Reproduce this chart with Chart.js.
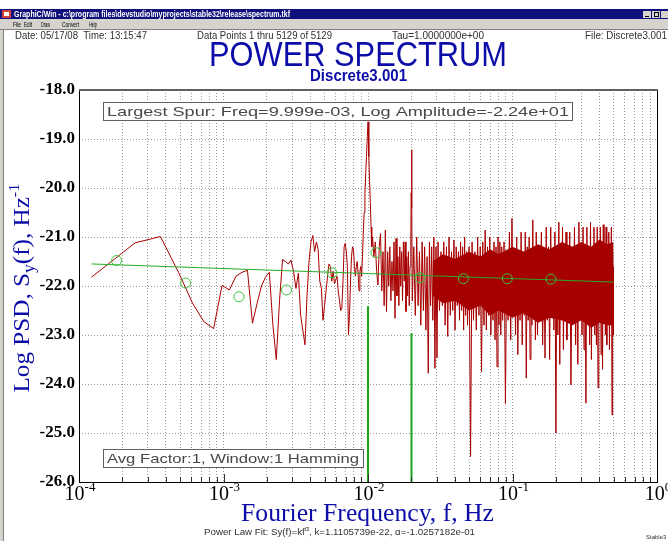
<!DOCTYPE html>
<html>
<head>
<meta charset="utf-8">
<title>Power Spectrum</title>
<script src="https://cdn.jsdelivr.net/npm/chart.js@4.4.1/dist/chart.umd.min.js"></script>
<style>
  html, body { margin: 0; padding: 0; background: #ffffff; }
  #wrap { position: relative; width: 668px; height: 541px; overflow: hidden; }
</style>
</head>
<body>
<div id="wrap"><canvas id="spectrumChart" width="668" height="541"></canvas></div>
<script>
// spectrum bin width, Hz (tau = 1 s)
const BIN_WIDTH = 1 / 8192;

// bins 1..82, one value per bin (index 0 = bin 1)
const lowPsd = [
  -21.82, -21.12, -20.99, -21.72, -22.35, -22.73, -22.87, -21.99, -22.08, -21.80,
  -21.72, -21.68, -22.76, -22.35, -22.00, -21.82, -21.72, -22.80, -23.50, -22.30,
  -21.46, -21.50, -21.55, -21.47, -21.70, -22.05, -21.74, -22.60, -22.90, -23.20,
  -22.20, -21.50, -21.10, -20.97, -21.30, -21.10, -21.25, -21.90, -22.05, -22.70,
  -22.40, -22.10, -21.80, -21.55, -21.60, -21.90, -21.70, -21.95, -21.88, -21.80,
  -22.10, -22.30, -22.50, -22.45, -21.90, -21.20, -21.13, -21.30, -21.60, -23.00,
  -22.60, -21.90, -21.40, -21.20, -21.25, -21.60, -21.80, -21.60, -21.50, -21.75,
  -22.10, -21.70, -21.60, -21.80, -21.40, -20.90, -20.50, -20.10, -19.70, -19.35,
  -18.95, -18.65
];

// between the two spurs
const midBins = [
  83, 84, 85, 86, 87, 88, 90, 92, 94, 96, 98, 100, 102, 104, 106, 108, 110, 112,
  114, 116, 118, 120, 122, 124, 126, 128, 130, 132, 134, 136, 138, 140, 142, 144,
  146, 148, 150, 152, 154, 156, 158, 160, 162, 163, 164, 165
];
const midPsd = [
  -19.36, -19.85, -20.30, -20.80, -21.20, -21.00, -21.40, -21.10, -21.70, -21.98,
  -21.20, -20.93, -22.10, -21.30, -22.40, -20.86, -22.52, -21.30, -22.00, -21.20,
  -22.30, -21.50, -22.10, -21.10, -22.66, -21.03, -22.20, -21.40, -22.40, -21.20,
  -22.00, -21.30, -22.30, -21.10, -21.90, -21.10, -22.52, -21.40, -22.20, -21.30,
  -22.40, -21.60, -21.20, -20.10, -19.22, -20.40
];

// dense upper part of the spectrum
const highBins = [
  166, 170, 174, 178, 182, 186, 190, 194, 198, 202, 206, 210, 214, 218, 222, 226, 230, 234, 238, 242, 246, 250,
  256, 262, 268, 274, 280, 286, 292, 298, 304, 310, 316, 322, 328, 334, 340, 346, 352, 358, 364, 370, 376, 382, 388, 394, 400,
  410, 420, 430, 440, 450, 460, 470, 480, 490, 500, 510, 520, 530, 540, 550, 560, 570, 580, 590, 600, 610, 620, 630, 640, 650, 660, 670, 680, 690, 700,
  716, 732, 748, 764, 780, 796, 812, 828, 844, 860, 876, 892, 908, 924, 940, 956, 972, 988, 1004, 1020, 1036, 1052, 1068, 1084, 1100, 1116, 1132, 1148, 1164, 1180, 1196,
  1220, 1246, 1272, 1298, 1324, 1350, 1376, 1402, 1428, 1454, 1480, 1506, 1532, 1558, 1584, 1610, 1636, 1662, 1688, 1714, 1740, 1766, 1792, 1818, 1844, 1870, 1896, 1922, 1948, 1974, 2000,
  2040, 2080, 2120, 2160, 2200, 2240, 2280, 2320, 2360, 2400, 2440, 2480, 2520, 2560, 2600, 2640, 2680, 2720, 2760, 2800, 2840, 2880, 2920, 2960, 3000, 3040,
  3080, 3120, 3160, 3200, 3240, 3280, 3320, 3360, 3400, 3440, 3480, 3520, 3560, 3600, 3640, 3680, 3720, 3760, 3800, 3840, 3880, 3920, 3960, 4000, 4040, 4080, 4096
];
const highPsd = [
  -22.3, -21.2, -22.6, -21.0, -22.4, -21.3, -22.8, -21.1, -22.5, -21.2, -22.9, -21.4, -23.78, -21.1, -22.4, -21.2, -22.7, -21.0, -23.68, -21.2, -23.47, -21.1,
  -22.5, -21.3, -22.4, -21.1, -22.8, -21.2, -23.03, -21.0, -22.6, -21.3, -22.5, -21.06, -22.9, -21.2, -22.4, -21.3, -22.7, -21.1, -22.5, -21.2, -22.9, -21.0, -22.6, -21.3, -22.8,
  -21.2, -25.48, -21.1, -22.7, -21.3, -22.9, -21.0, -22.6, -21.2, -23.75, -21.1, -22.8, -20.86, -22.9, -21.2, -22.6, -21.0, -23.0, -21.3, -22.7, -21.1, -23.1, -21.2, -23.65, -21.0, -22.8, -21.1, -23.0, -21.2, -22.7,
  -21.1, -24.4, -21.3, -22.7, -20.9, -23.1, -20.62, -22.6, -21.3, -23.0, -21.0, -23.4, -21.4, -22.7, -20.9, -23.2, -21.3, -22.6, -20.9, -23.88, -21.2, -22.7, -21.0, -23.5, -21.4, -22.8, -20.65, -22.6, -21.2, -23.1, -20.9,
  -23.0, -21.3, -22.6, -20.9, -23.2, -21.4, -23.47, -20.8, -22.7, -21.2, -23.5, -20.8, -22.6, -21.3, -22.9, -20.9, -25.0, -21.2, -23.0, -20.7, -23.6, -21.3, -22.7, -20.8, -23.3, -21.4, -22.6, -20.9, -23.1, -21.2, -22.7,
  -20.9, -24.02, -21.3, -22.7, -20.8, -23.2, -21.4, -23.6, -20.7, -22.6, -21.2, -23.0, -20.8, -23.3, -21.4, -24.39, -20.8, -22.7, -21.2, -23.2, -20.7, -23.5, -21.3, -22.6, -20.8, -23.0,
  -21.4, -23.2, -20.8, -24.08, -21.2, -22.7, -20.8, -23.4, -21.3, -23.7, -20.75, -22.6, -21.2, -23.0, -20.8, -23.2, -21.4, -22.7, -20.9, -23.3, -21.2, -22.6, -20.8, -24.63, -21.3, -23.0, -21.6
];

// solid core of the dense band (upper and lower edge)
const bandFreq = [0.028, 0.033, 0.04, 0.05, 0.06, 0.07, 0.08, 0.1, 0.12, 0.15, 0.18, 0.22, 0.26, 0.3, 0.35, 0.4, 0.45, 0.5];
const bandTop = [-21.5, -21.35, -21.45, -21.3, -21.4, -21.25, -21.35, -21.2, -21.3, -21.15, -21.25, -21.1, -21.2, -21.1, -21.2, -21.05, -21.15, -21.1];
const bandBottom = [-22.2, -22.35, -22.3, -22.5, -22.4, -22.6, -22.5, -22.65, -22.55, -22.75, -22.65, -22.7, -22.8, -22.7, -22.85, -22.75, -22.8, -22.8];

// power law fit line
const fitFreq = [1.2207e-4, 0.5];
const fitPsd = [-21.55, -21.92];

// octave averaged points (green circles)
const avgFreq = [1.82e-4, 5.47e-4, 1.28e-3, 2.73e-3, 5.64e-3, 1.135e-2, 2.29e-2, 4.57e-2, 9.2e-2, 1.845e-1];
const avgPsd = [-21.48, -21.94, -22.22, -22.08, -21.73, -21.32, -21.83, -21.85, -21.85, -21.86];

// detected spurs
const spurFreq = [9.999e-3, 2.0e-2];
const spurPsd = [-22.41, -22.96];
const PSD_FLOOR = -26;

// axis ticks
const decadeTicks = [1e-4, 1e-3, 1e-2, 1e-1, 1];
const decadeExponents = ["-4", "-3", "-2", "-1", "0"];
const minorSteps = [2, 3, 4, 5, 6, 7, 8, 9];
const psdTicks = [-18, -19, -20, -21, -22, -23, -24, -25, -26];

const COLORS = {
  RED: "#a80000",
  BAND: "#a40000",
  FIT: "rgb(40, 170, 40)",
  CIRCLE: "#3cc43c",
  SPUR: "#1aa61a",
  GRID: "#9a9a9a",
  BLUE: "#0c0ca8",
  TEXT: "#303030",
  BOX_TEXT: "#484848",
  NAVY: "#10107c",
  FACE: "#d6d3ce"
};
const SERIF = '"Liberation Serif", "DejaVu Serif", serif';
const SANS = '"Liberation Sans", Arial, sans-serif';

const xGridValues = [];
decadeTicks.forEach((d, i) => {
  xGridValues.push(d);
  if (i < decadeTicks.length - 1) {
    minorSteps.forEach((m) => xGridValues.push(d * m));
  }
});

const redPoints = [];
lowPsd.forEach((v, i) => redPoints.push({ x: (i + 1) * BIN_WIDTH, y: v }));
midBins.forEach((b, i) => redPoints.push({ x: b * BIN_WIDTH, y: midPsd[i] }));
highBins.forEach((b, i) => redPoints.push({ x: b * BIN_WIDTH, y: highPsd[i] }));

function fitText(ctx, text, x, y, width, font, color) {
  ctx.save();
  ctx.font = font;
  ctx.fillStyle = color;
  ctx.textAlign = "left";
  ctx.textBaseline = "alphabetic";
  const w = ctx.measureText(text).width;
  ctx.translate(x, y);
  ctx.scale(width / w, 1);
  ctx.fillText(text, 0, 0);
  ctx.restore();
}

// parts: {text, font, dy}; draws from x, or squeezed to width if given
function drawRich(ctx, parts, x, y, width, color) {
  ctx.save();
  ctx.fillStyle = color;
  ctx.textAlign = "left";
  ctx.textBaseline = "alphabetic";
  let total = 0;
  const widths = parts.map((p) => {
    ctx.font = p.font;
    const w = ctx.measureText(p.text).width;
    total += w;
    return w;
  });
  ctx.translate(x, y);
  if (width) {
    ctx.scale(width / total, 1);
  }
  let cx = 0;
  parts.forEach((p, i) => {
    ctx.font = p.font;
    ctx.fillText(p.text, cx, p.dy || 0);
    cx += widths[i];
  });
  ctx.restore();
  return total;
}

function measureRich(ctx, parts) {
  let total = 0;
  ctx.save();
  parts.forEach((p) => {
    ctx.font = p.font;
    total += ctx.measureText(p.text).width;
  });
  ctx.restore();
  return total;
}

const spectrumDecor = {
  id: "spectrumDecor",

  beforeDraw(chart) {
    const ctx = chart.ctx;
    ctx.save();
    ctx.fillStyle = "#ffffff";
    ctx.fillRect(0, 0, chart.width, chart.height);

    // window title bar
    ctx.fillStyle = COLORS.NAVY;
    ctx.fillRect(0, 9, chart.width, 10);
    ctx.fillStyle = "#d04040";
    ctx.fillRect(2, 10, 9, 8);
    ctx.fillStyle = "#ffffff";
    ctx.fillRect(4, 12, 5, 4);
    fitText(ctx, "GraphiC/Win - c:\\program files\\devstudio\\myprojects\\stable32\\release\\spectrum.tkf",
      14, 17, 276, "bold 9px " + SANS, "#ffffff");
    [643, 652, 661].forEach((bx) => {
      ctx.fillStyle = COLORS.FACE;
      ctx.fillRect(bx, 11, 8, 7);
    });
    ctx.fillStyle = "#000000";
    ctx.fillRect(645, 16, 4, 1);
    ctx.strokeStyle = "#000000";
    ctx.lineWidth = 1;
    ctx.strokeRect(654.5, 12.5, 4, 4);

    // menu bar
    ctx.fillStyle = COLORS.FACE;
    ctx.fillRect(0, 19, chart.width, 10);
    const menu = [["File", 13, 8], ["Edit", 24, 8], ["Draw", 41, 9], ["Convert", 62, 17], ["Help", 89, 8]];
    menu.forEach(([t, mx, mw]) => fitText(ctx, t, mx, 27, mw, "8px " + SANS, "#000000"));

    // client area edges
    ctx.fillStyle = COLORS.FACE;
    ctx.fillRect(0, 29, 3, chart.height - 29);
    ctx.fillStyle = "#808080";
    ctx.fillRect(0, 29, chart.width, 1);
    ctx.fillRect(3, 29, 1, chart.height - 29);
    ctx.restore();
  },

  afterDatasetsDraw(chart) {
    const ctx = chart.ctx;
    const area = chart.chartArea;
    const xScale = chart.scales.x;
    ctx.save();

    // inner tick marks along the bottom axis
    ctx.strokeStyle = "#333333";
    ctx.lineWidth = 1;
    xGridValues.forEach((v) => {
      const px = Math.round(xScale.getPixelForValue(v)) + 0.5;
      const len = decadeTicks.includes(v) ? 8 : 5;
      ctx.beginPath();
      ctx.moveTo(px, area.bottom);
      ctx.lineTo(px, area.bottom - len);
      ctx.stroke();
    });

    // plot frame
    ctx.strokeStyle = "#000000";
    ctx.strokeRect(Math.round(area.left) + 0.5, Math.round(area.top) + 0.5,
      Math.round(area.right - area.left), Math.round(area.bottom - area.top));
    ctx.fillStyle = "#606060";
    ctx.fillRect(area.left, area.top - 1, area.right - area.left + 1, 2);

    // annotation boxes
    const boxes = [
      ["Largest Spur: Freq=9.999e-03, Log Amplitude=-2.24e+01", 103, 102, 469, 462],
      ["Avg Factor:1, Window:1 Hamming", 103, 449, 260, 252]
    ];
    boxes.forEach(([text, bx, by, bw, tw]) => {
      ctx.fillStyle = "#ffffff";
      ctx.fillRect(bx, by, bw, 18);
      ctx.strokeStyle = "#606060";
      ctx.strokeRect(bx + 0.5, by + 0.5, bw, 18);
      fitText(ctx, text, bx + 4, by + 14, tw, "13px " + SANS, COLORS.BOX_TEXT);
    });
    ctx.restore();
  },

  afterDraw(chart) {
    const ctx = chart.ctx;
    const xScale = chart.scales.x;
    ctx.save();

    // header line
    const smallFont = "10px " + SANS;
    fitText(ctx, "Date: 05/17/08  Time: 13:15:47", 15, 39, 132, smallFont, COLORS.TEXT);
    fitText(ctx, "Data Points 1 thru 5129 of 5129", 197, 39, 135, smallFont, COLORS.TEXT);
    fitText(ctx, "Tau=1.0000000e+00", 392, 39, 92, smallFont, COLORS.TEXT);
    fitText(ctx, "File: Discrete3.001", 585, 39, 82, smallFont, COLORS.TEXT);

    // titles
    fitText(ctx, "POWER SPECTRUM", 209, 66, 298, "35px " + SANS, COLORS.BLUE);
    fitText(ctx, "Discrete3.001", 310, 81, 97, "bold 17px " + SANS, COLORS.BLUE);

    // x tick labels 10^n
    decadeTicks.forEach((v, i) => {
      const parts = [
        { text: "10", font: "20px " + SERIF },
        { text: decadeExponents[i], font: "13px " + SERIF, dy: -9 }
      ];
      const w = measureRich(ctx, parts);
      const px = xScale.getPixelForValue(v);
      drawRich(ctx, parts, px + 1 - w / 2, 500, null, "#000000");
    });

    // x axis title
    fitText(ctx, "Fourier Frequency, f, Hz", 241, 521, 253, "25px " + SERIF, COLORS.BLUE);

    // y axis title, rotated
    ctx.save();
    ctx.translate(29, 288);
    ctx.rotate(-Math.PI / 2);
    const yParts = [
      { text: "Log PSD, S", font: "23px " + SERIF },
      { text: "y", font: "16px " + SERIF, dy: 5 },
      { text: "(f), Hz", font: "23px " + SERIF },
      { text: "-1", font: "15px " + SERIF, dy: -10 }
    ];
    drawRich(ctx, yParts, -104.5, 0, 209, COLORS.BLUE);
    ctx.restore();

    // footer
    drawRich(ctx, [
      { text: "Power Law Fit: Sy(f)=kf", font: "9px " + SANS },
      { text: "\u03b1", font: "7px " + SANS, dy: -4 },
      { text: ", k=1.1105739e-22, \u03b1=-1.0257182e-01", font: "9px " + SANS }
    ], 204, 535, 271, COLORS.TEXT);
    ctx.font = "6px " + SANS;
    ctx.fillStyle = COLORS.TEXT;
    ctx.fillText("Stable3", 646, 539);
    ctx.restore();
  }
};

const ctx = document.getElementById("spectrumChart").getContext("2d");

new Chart(ctx, {
  type: "line",
  data: {
    datasets: [
      {
        label: "Averages",
        data: avgFreq.map((f, i) => ({ x: f, y: avgPsd[i] })),
        showLine: false,
        pointRadius: 5,
        pointStyle: "circle",
        pointBorderColor: COLORS.CIRCLE,
        pointBackgroundColor: "rgba(0, 0, 0, 0)",
        pointBorderWidth: 1,
        order: 0
      },
      {
        label: "Power Law Fit",
        data: fitFreq.map((f, i) => ({ x: f, y: fitPsd[i] })),
        borderColor: COLORS.FIT,
        borderWidth: 1,
        pointRadius: 0,
        order: 1
      },
      {
        label: "Spur 1",
        data: [{ x: spurFreq[0], y: PSD_FLOOR }, { x: spurFreq[0], y: spurPsd[0] }],
        borderColor: COLORS.SPUR,
        borderWidth: 2,
        pointRadius: 0,
        order: 2
      },
      {
        label: "Spur 2",
        data: [{ x: spurFreq[1], y: PSD_FLOOR }, { x: spurFreq[1], y: spurPsd[1] }],
        borderColor: COLORS.SPUR,
        borderWidth: 2,
        pointRadius: 0,
        order: 2
      },
      {
        label: "PSD",
        data: redPoints,
        borderColor: COLORS.RED,
        borderWidth: 1,
        pointRadius: 0,
        tension: 0,
        order: 3
      },
      {
        label: "Band top",
        data: bandFreq.map((f, i) => ({ x: f, y: bandTop[i] })),
        borderWidth: 0,
        borderColor: "rgba(0, 0, 0, 0)",
        backgroundColor: COLORS.BAND,
        pointRadius: 0,
        fill: "+1",
        order: 4
      },
      {
        label: "Band bottom",
        data: bandFreq.map((f, i) => ({ x: f, y: bandBottom[i] })),
        borderWidth: 0,
        borderColor: "rgba(0, 0, 0, 0)",
        pointRadius: 0,
        fill: false,
        order: 5
      }
    ]
  },
  options: {
    responsive: false,
    animation: false,
    events: [],
    layout: {
      padding: { top: 90, right: 11, bottom: 0, left: 0 }
    },
    plugins: {
      legend: { display: false },
      tooltip: { enabled: false }
    },
    scales: {
      x: {
        type: "logarithmic",
        min: 1e-4,
        max: 1,
        afterBuildTicks: (scale) => {
          scale.ticks = xGridValues.map((v) => ({ value: v }));
        },
        afterFit: (scale) => {
          scale.height = 59;
        },
        ticks: { display: false },
        grid: { color: COLORS.GRID, lineWidth: 1, drawTicks: false },
        border: { display: false, dash: [1, 2] }
      },
      y: {
        type: "linear",
        min: -26,
        max: -18,
        afterBuildTicks: (scale) => {
          scale.ticks = psdTicks.map((v) => ({ value: v }));
        },
        afterFit: (scale) => {
          scale.width = 79;
        },
        ticks: {
          autoSkip: false,
          padding: 4,
          color: "#000000",
          font: { family: SERIF, size: 17, weight: "bold" },
          callback: (v) => Number(v).toFixed(1)
        },
        grid: { color: COLORS.GRID, lineWidth: 1, drawTicks: false },
        border: { display: false, dash: [1, 2] }
      }
    }
  },
  plugins: [spectrumDecor]
});
</script>
</body>
</html>
